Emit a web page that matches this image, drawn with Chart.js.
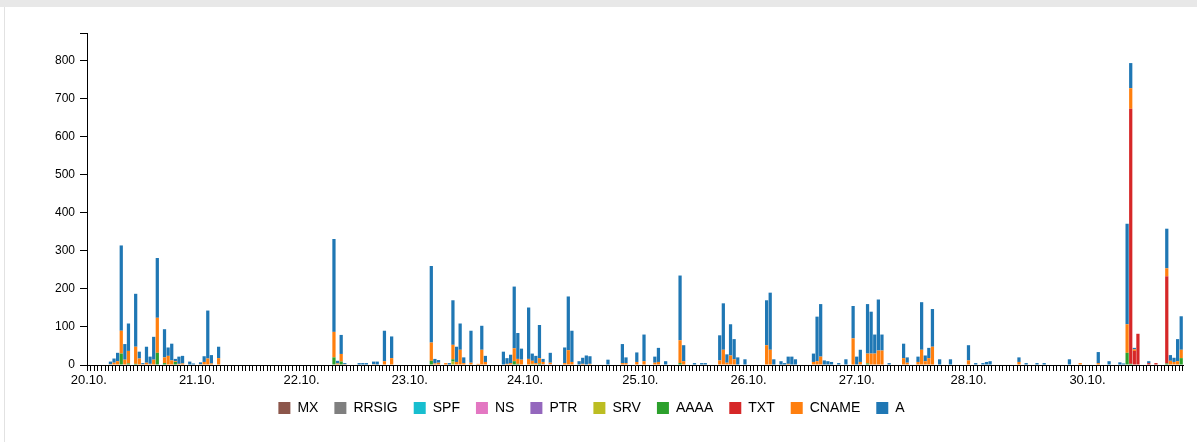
<!DOCTYPE html>
<html>
<head>
<meta charset="utf-8">
<title>DNS queries per type</title>
<script src="https://cdn.jsdelivr.net/npm/chart.js@4.4.1/dist/chart.umd.min.js"></script>
<style>
  html, body { margin: 0; padding: 0; background: #fff; }
  body { width: 1197px; height: 442px; position: relative; overflow: hidden; }
  #topbar { position: absolute; left: 0; top: 0; width: 1197px; height: 7px; background: #e8e8e8; }
  #edge { position: absolute; left: 4px; top: 7px; width: 1px; height: 435px; background: #e2e2e2; }
  #chart { position: absolute; left: 0; top: 0; }
</style>
</head>
<body>
<div id="topbar"></div>
<div id="edge"></div>
<canvas id="chart" width="1197" height="442"></canvas>
<script>
// time slots along the x axis, first slot of each day gets the date label
const slotCount = 304;
const dayLabels    = ['20.10.', '21.10.', '22.10.', '23.10.', '24.10.', '25.10.', '26.10.', '27.10.', '28.10.', '30.10.'];
const dayFirstSlot = [0, 30, 59, 89, 121, 153, 183, 213, 244, 277];

// record types, bottom of the stack first
const typeNames  = ['MX', 'RRSIG', 'SPF', 'NS', 'PTR', 'SRV', 'AAAA', 'TXT', 'CNAME', 'A'];
const typeColors = ['#8c564b', '#7f7f7f', '#17becf', '#e377c2', '#9467bd', '#bcbd22', '#2ca02c', '#d62728', '#ff7f0e', '#1f77b4'];

// [slot, count] per record type
const mxCounts    = [];
const rrsigCounts = [];
const spfCounts   = [];
const nsCounts    = [[128, 2]];
const ptrCounts   = [[126, 2]];
const srvCounts   = [[101, 9], [123, 3]];
const aaaaCounts  = [[9, 30], [11, 4], [13, 3], [19, 32], [21, 5], [24, 8], [68, 20], [70, 9], [95, 11], [101, 6],
                     [118, 10], [119, 3], [125, 4], [164, 5], [216, 4], [288, 32], [289, 3], [299, 4], [303, 18]];
const txtCounts   = [[289, 670], [290, 37], [291, 82], [294, 5], [296, 5], [299, 229]];
const cnameCounts = [[6, 2], [7, 6], [8, 10], [9, 60], [10, 14], [11, 33], [13, 45], [14, 17], [15, 2], [16, 6],
                     [17, 3], [18, 14], [19, 92], [21, 15], [22, 24], [23, 12], [24, 2], [25, 3], [26, 4], [31, 2],
                     [32, 8], [33, 17], [34, 4], [36, 18], [68, 67], [69, 4], [70, 20], [71, 2], [79, 2], [82, 10],
                     [84, 18], [95, 48], [96, 4], [97, 6], [99, 5], [101, 38], [102, 8], [103, 40], [104, 5], [106, 6],
                     [108, 3], [109, 40], [110, 8], [116, 3], [117, 5], [118, 34], [119, 13], [120, 14], [122, 16], [123, 8],
                     [124, 5], [125, 14], [126, 6], [128, 4], [132, 5], [133, 39], [134, 8], [137, 3], [139, 3], [148, 5],
                     [149, 5], [152, 8], [154, 10], [157, 6], [158, 8], [164, 60], [165, 10], [175, 12], [176, 40], [177, 6],
                     [178, 25], [179, 15], [188, 52], [189, 40], [194, 3], [201, 8], [202, 10], [203, 22], [212, 70], [214, 8],
                     [216, 26], [217, 30], [218, 30], [219, 38], [220, 38], [226, 18], [227, 6], [230, 8], [231, 40], [232, 10],
                     [233, 18], [234, 48], [244, 12], [258, 8], [275, 5], [280, 5], [288, 75], [289, 54], [290, 4], [299, 21],
                     [300, 11], [301, 8], [302, 10], [303, 22]];
const aCounts     = [[6, 7], [7, 11], [8, 22], [9, 224], [10, 41], [11, 72], [13, 139], [14, 18], [15, 3], [16, 42],
                     [17, 19], [18, 60], [19, 157], [21, 74], [22, 22], [23, 44], [24, 6], [25, 19], [26, 20], [28, 9],
                     [29, 4], [31, 5], [32, 15], [33, 126], [34, 22], [36, 30], [68, 244], [69, 7], [70, 50], [71, 3],
                     [75, 5], [76, 5], [77, 5], [79, 7], [80, 9], [82, 80], [84, 57], [95, 201], [96, 12], [97, 7],
                     [100, 5], [101, 117], [102, 40], [103, 69], [104, 15], [106, 84], [109, 63], [110, 16], [115, 35], [116, 15],
                     [117, 22], [118, 162], [119, 68], [120, 29], [122, 135], [123, 19], [124, 19], [125, 87], [126, 8], [128, 26],
                     [132, 41], [133, 141], [134, 82], [136, 10], [137, 16], [138, 25], [139, 20], [144, 14], [148, 50], [149, 15],
                     [152, 25], [154, 70], [157, 16], [158, 37], [160, 10], [164, 170], [165, 42], [168, 5], [170, 5], [171, 5],
                     [175, 66], [176, 122], [177, 22], [178, 82], [179, 53], [180, 20], [182, 15], [188, 118], [189, 150], [190, 15],
                     [192, 10], [193, 5], [194, 19], [195, 22], [196, 15], [201, 22], [202, 117], [203, 138], [204, 12], [205, 10],
                     [206, 8], [208, 5], [210, 15], [212, 85], [213, 22], [214, 32], [216, 130], [217, 110], [218, 50], [219, 134],
                     [220, 42], [222, 5], [226, 38], [227, 14], [230, 14], [231, 125], [232, 15], [233, 27], [234, 99], [236, 15],
                     [239, 15], [244, 40], [246, 5], [248, 5], [249, 8], [250, 10], [258, 12], [260, 5], [263, 5], [265, 5],
                     [272, 15], [280, 29], [283, 10], [286, 7], [287, 4], [288, 264], [289, 66], [290, 4], [294, 5], [299, 104],
                     [300, 15], [301, 11], [302, 58], [303, 88]];

const yMax = 872;
const yStep = 100;

const typeCounts = [mxCounts, rrsigCounts, spfCounts, nsCounts, ptrCounts, srvCounts, aaaaCounts, txtCounts, cnameCounts, aCounts];

const slotLabels = Array(slotCount).fill('');
dayFirstSlot.forEach((s, i) => { slotLabels[s] = dayLabels[i]; });

const toSeries = pairs => {
  const arr = Array(slotCount).fill(0);
  pairs.forEach(([s, v]) => { arr[s] = v; });
  return arr;
};

Chart.defaults.font.family = "'Liberation Sans', Arial, sans-serif";
Chart.defaults.color = '#000';

new Chart(document.getElementById('chart'), {
  type: 'bar',
  data: {
    labels: slotLabels,
    datasets: typeNames.map((name, i) => ({
      label: name,
      data: toSeries(typeCounts[i]),
      backgroundColor: typeColors[i],
      borderWidth: 0,
      barPercentage: 0.9,
      categoryPercentage: 1
    }))
  },
  options: {
    responsive: false,
    animation: false,
    layout: { padding: { top: 33, right: 14, bottom: 17, left: 0 } },
    plugins: {
      tooltip: { enabled: false },
      legend: {
        position: 'bottom',
        labels: { boxWidth: 12, boxHeight: 12, padding: 16, color: '#000', font: { size: 14 } }
      }
    },
    scales: {
      x: {
        stacked: true,
        border: { color: '#000', width: 1 },
        grid: { drawOnChartArea: false, color: '#000', tickLength: 6 },
        ticks: { autoSkip: false, maxRotation: 0, color: '#000', font: { size: 13 }, padding: 2 },
        afterFit: s => { s.height = 20; s.paddingLeft = 0; s.paddingRight = 0; }
      },
      y: {
        stacked: true,
        min: 0,
        max: yMax,
        border: { color: '#000', width: 1 },
        grid: { drawOnChartArea: false, color: '#000', tickLength: 7 },
        ticks: {
          stepSize: yStep, color: '#000', font: { size: 12 }, padding: 5,
          callback: v => (v % yStep === 0 ? v : '')
        },
        afterFit: s => { s.width = 87; s.paddingTop = 0; s.paddingBottom = 0; }
      }
    }
  }
});
</script>
</body>
</html>
